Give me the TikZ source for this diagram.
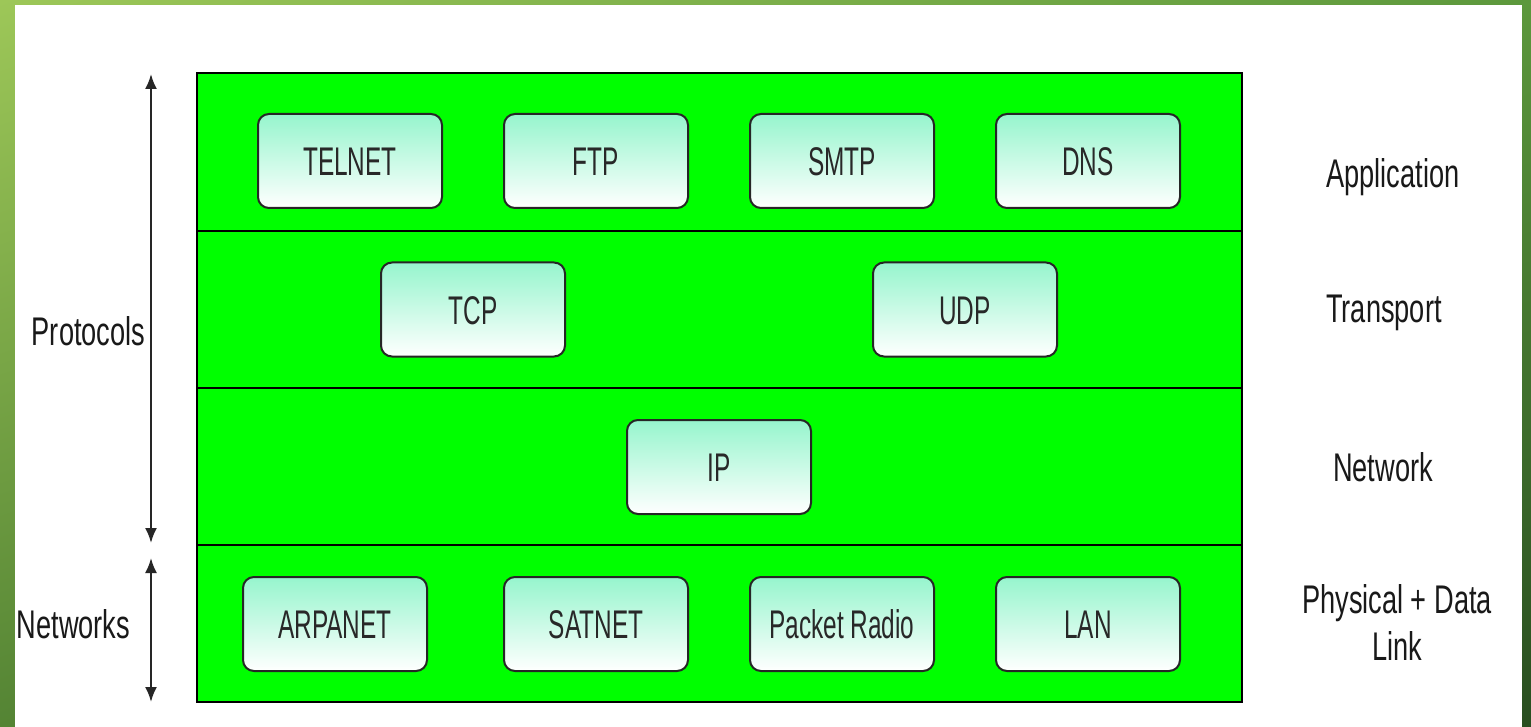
\documentclass[tikz,border=0pt]{standalone}
\usepackage{fontspec}
\setmainfont{Liberation Sans}
\newfontfamily\boxfont[FakeStretch=0.61]{Liberation Sans}
\newfontfamily\sidefont[FakeStretch=0.68]{Liberation Sans}
\usepackage{tikz}
\usetikzlibrary{arrows.meta,shadings}

\definecolor{layergreen}{RGB}{0,255,0}
\definecolor{mint}{RGB}{150,245,205}
\definecolor{textgray}{RGB}{40,40,40}
\definecolor{frameUL}{RGB}{157,199,88}
\definecolor{frameUR}{RGB}{92,152,60}
\definecolor{frameLL}{RGB}{84,132,52}
\definecolor{frameLR}{RGB}{40,78,32}

\begin{document}
\begin{tikzpicture}[x=1pt,y=-1pt,
		proto/.style={draw=black!85,line width=2pt,rounded corners=11pt,
			top color=mint,bottom color=white,minimum width=184pt,minimum height=94pt,
			text=textgray,font=\boxfont\fontsize{40}{44}\selectfont,text height=29pt,text depth=0pt},
		sidelabel/.style={anchor=base,text=black!90,font=\sidefont\fontsize{40}{47}\selectfont,
			align=center,inner sep=0pt},
		span/.style={draw=black!85,line width=2.2pt,{Latex[length=15pt,width=12pt]}-{Latex[length=15pt,width=12pt]}}]
	\useasboundingbox (0,0) rectangle (1531,727);
	\shade[upper left=frameUL,upper right=frameUR,lower left=frameLL,lower right=frameLR]
		(0,0) rectangle (1531,727);
	\fill[white] (15,5) rectangle (1522,727);

	% the four layers
	\draw[fill=layergreen,line width=2pt] (197,73) rectangle (1242,702);
	\draw[line width=2pt] (197,231) -- (1242,231);
	\draw[line width=2pt] (197,388) -- (1242,388);
	\draw[line width=2pt] (197,545) -- (1242,545);

	\node[proto] (telnet) at (350,161) {TELNET};
	\node[proto] (ftp) at (596,161) {FTP};
	\node[proto] (smtp) at (842,161) {SMTP};
	\node[proto] (dns) at (1088,161) {DNS};

	\node[proto] (tcp) at (473,309.5) {TCP};
	\node[proto] (udp) at (965,309.5) {UDP};

	\node[proto] (ip) at (719,467) {IP};

	\node[proto] (arpanet) at (335,624) {ARPANET};
	\node[proto] (satnet) at (596,624) {SATNET};
	\node[proto] (radio) at (842,624) {Packet Radio};
	\node[proto] (lan) at (1088,624) {LAN};

	% layer names
	\node[sidelabel] (application) at (1393,188) {Application};
	\node[sidelabel] (transport) at (1384,323) {Transport};
	\node[sidelabel] (network) at (1383,481) {Network};
	\node[sidelabel] (physical) at (1397,613) {Physical + Data};
	\node[sidelabel] (link) at (1397,660) {Link};

	% spans on the left
	\coordinate (prototop) at (151,74);
	\coordinate (protobottom) at (151,543);
	\coordinate (nettop) at (151,558);
	\coordinate (netbottom) at (151,702);
	\draw[span] (prototop) -- (protobottom);
	\draw[span] (nettop) -- (netbottom);
	\node[sidelabel] (protocols) at (88.5,345) {Protocols};
	\node[sidelabel] (networks) at (73.5,638) {Networks};
\end{tikzpicture}
\end{document}
